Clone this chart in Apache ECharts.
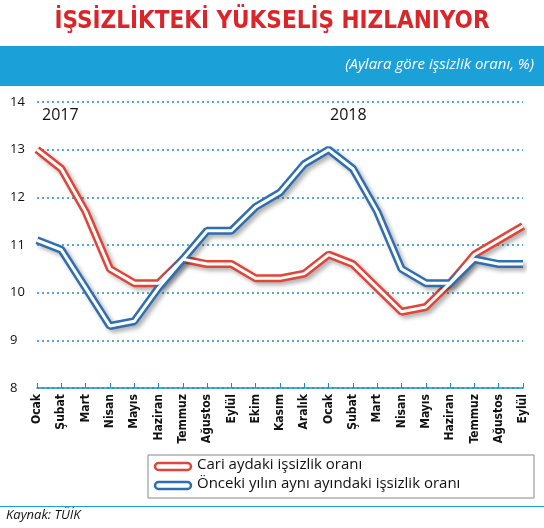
<!DOCTYPE html>
<html><head><meta charset="utf-8">
<script src="https://cdn.jsdelivr.net/npm/echarts@6/dist/echarts.min.js"></script>
<style>html,body{margin:0;padding:0;background:#fff}#c{width:544px;height:528px}</style>
</head><body><div id="c"></div>
<script>
const months = ['Ocak','Şubat','Mart','Nisan','Mayıs','Haziran','Temmuz','Ağustos','Eylül','Ekim','Kasım','Aralık','Ocak','Şubat','Mart','Nisan','Mayıs','Haziran','Temmuz','Ağustos','Eylül'];
const cari = [13.0,12.6,11.7,10.5,10.2,10.2,10.7,10.6,10.6,10.3,10.3,10.4,10.8,10.6,10.1,9.6,9.7,10.2,10.8,11.1,11.4];
const onceki = [11.1,10.9,10.1,9.3,9.4,10.1,10.7,11.3,11.3,11.8,12.1,12.7,13.0,12.6,11.7,10.5,10.2,10.2,10.7,10.6,10.6];
const RED='#e0453a', BLUE='#2f6fb0';
function pair(name,data,color){
  return [
    {name:name+'_o',type:'line',data,symbol:'none',lineStyle:{width:8,color,shadowColor:'rgba(0,0,0,0.3)',shadowBlur:4,shadowOffsetX:3,shadowOffsetY:3},z:2,silent:true},
    {name:name+'_i',type:'line',data,symbol:'none',lineStyle:{width:3,color:'#fff'},z:3,silent:true}
  ];
}
const chart = echarts.init(document.getElementById('c'));
chart.setOption({
  animation:false,
  grid:{left:37,right:21,top:102,bottom:140},
  xAxis:{type:'category',data:months,boundaryGap:false,
    axisLine:{lineStyle:{color:'#1b8fc4',width:1.5}},
    axisTick:{show:true,inside:true,length:5,lineStyle:{color:'#1b8fc4'}},
    axisLabel:{rotate:90,color:'#111',fontFamily:'"DejaVu Sans Condensed","Liberation Sans Narrow",sans-serif',fontWeight:'bold',fontSize:12,interval:0,margin:6},
    splitLine:{show:false}},
  yAxis:{type:'value',min:8,max:14,interval:1,
    axisLine:{show:false},axisTick:{show:false},
    axisLabel:{color:'#111',fontFamily:'Open Sans',fontSize:13,margin:27,align:'left'},
    splitLine:{lineStyle:{color:'#1b8fc4',type:[2,3],width:1.5}}},
  series:[...pair('Cari',cari,RED),...pair('Önceki',onceki,BLUE),
    {type:'line',data:[],markLine:{symbol:'none',silent:true,label:{show:false},lineStyle:{color:'#1b8fc4',type:'solid',width:1},data:[{xAxis:'12'}]}}],
  graphic:[
    {type:'text',left:'center',top:10,style:{text:'İŞSİZLİKTEKİ YÜKSELİŞ HIZLANIYOR',fill:'#d8262b',font:'bold 24px "DejaVu Sans Condensed","Liberation Sans Narrow",sans-serif'}},
    {type:'rect',shape:{x:0,y:46,width:544,height:40},style:{fill:'#1ba0d8'}},
    {type:'text',right:10,top:57,style:{text:'(Aylara göre işsizlik oranı, %)',fill:'#fff',font:'italic 15px "Open Sans",sans-serif'}},
    {type:'text',left:42,top:107,style:{text:'2017',fill:'#111',font:'16px "Open Sans",sans-serif'}},
    {type:'text',left:330,top:107,style:{text:'2018',fill:'#111',font:'16px "Open Sans",sans-serif'}},
    {type:'rect',shape:{x:148,y:455,width:386,height:43},style:{fill:'none',stroke:'#888',lineWidth:1}},
    {type:'rect',shape:{x:155,y:463,width:36,height:7,r:3.5},style:{fill:'#fff',stroke:RED,lineWidth:2.5}},
    {type:'rect',shape:{x:155,y:482,width:36,height:7,r:3.5},style:{fill:'#fff',stroke:BLUE,lineWidth:2.5}},
    {type:'text',left:197,top:457,style:{text:'Cari aydaki işsizlik oranı',fill:'#111',font:'15px "Open Sans",sans-serif'}},
    {type:'text',left:197,top:476,style:{text:'Önceki yılın aynı ayındaki işsizlik oranı',fill:'#111',font:'15px "Open Sans",sans-serif'}},
    {type:'rect',shape:{x:0,y:506,width:544,height:1},style:{fill:'#1ba0d8'}},
    {type:'text',left:6,top:509,style:{text:'Kaynak: TÜİK',fill:'#111',font:'italic 13px "Open Sans",sans-serif'}}
  ]
});
</script></body></html>
